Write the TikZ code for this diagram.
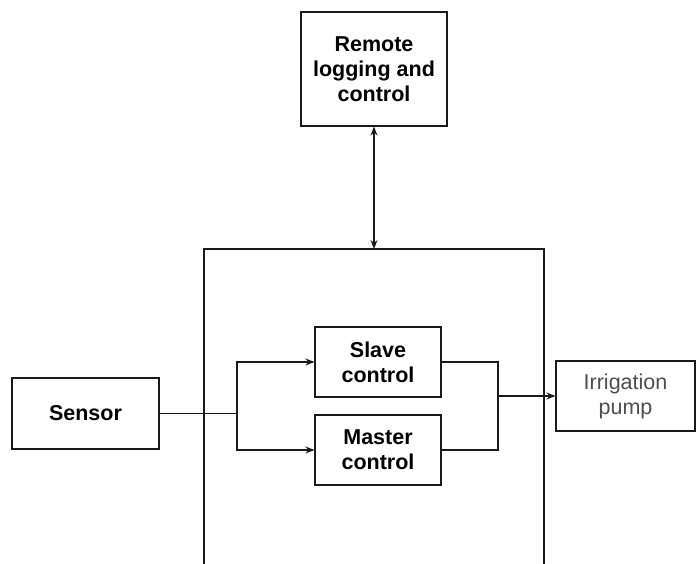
\documentclass[tikz,border=0pt]{standalone}
\usepackage{fontspec}
\setmainfont{Liberation Sans}
\usetikzlibrary{arrows.meta}
\definecolor{linec}{HTML}{1A1A1A}
\definecolor{pumptext}{HTML}{4D4D4D}
\begin{document}
\begin{tikzpicture}[x=1pt,y=-1pt,
  box/.style={draw=linec, line width=1.1pt, rectangle, align=center, inner sep=0pt,
    font=\fontsize{21.5}{25}\selectfont\bfseries},
  plainbox/.style={box, font=\fontsize{21.5}{25}\selectfont, text=pumptext},
  conn/.style={draw=linec, line width=1.1pt},
  arr/.style={conn, -{Stealth[length=9pt,width=7pt]}},
  darr/.style={conn, {Stealth[length=9pt,width=7pt]}-{Stealth[length=9pt,width=7pt]}}]
\useasboundingbox (0,0) rectangle (696,564);
% enclosing controller frame (open at bottom)
\coordinate (fbl) at (204,566);
\coordinate (ftl) at (204,249);
\coordinate (ftr) at (544,249);
\coordinate (fbr) at (544,566);
\draw[conn] (fbl) -- (ftl) -- (ftr) -- (fbr);
\node[box, minimum width=146pt, minimum height=114pt] (remote) at (374,69) {Remote\\logging and\\control};
\node[box, minimum width=147pt, minimum height=71pt] (sensor) at (85.5,413.5) {Sensor};
\node[box, minimum width=126pt, minimum height=70pt] (slave) at (378,362) {Slave\\control};
\node[box, minimum width=126pt, minimum height=70pt] (master) at (378,450) {Master\\control};
\node[plainbox, minimum width=139pt, minimum height=70pt] (pump) at (625.5,396) {Irrigation\\pump};
\coordinate (ftop) at (remote.south |- ftl);
\draw[darr] (remote.south) -- (ftop);
\coordinate (j1) at (237,413.5);
\draw[conn] (sensor.east) -- (j1);
\draw[arr] (j1) |- (slave.west);
\draw[arr] (j1) |- (master.west);
\coordinate (j2) at (498,396);
\draw[conn] (slave.east) -| (j2);
\draw[conn] (master.east) -| (j2);
\draw[arr] (j2) -- (pump.west);
\end{tikzpicture}
\end{document}
